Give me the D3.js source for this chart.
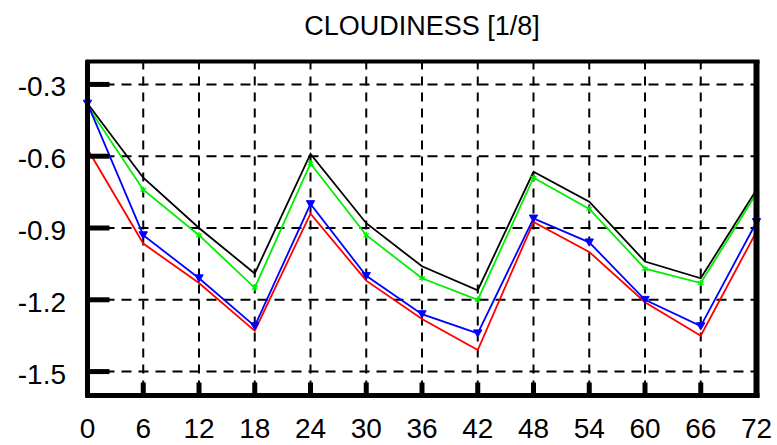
<!DOCTYPE html>
<html>
<head>
<meta charset="utf-8">
<script src="https://cdn.jsdelivr.net/npm/d3@7"></script>
<style>
  body { margin: 0; background: #fff; }
  text { font-family: "Liberation Sans", Arial, sans-serif; fill: #000; }
</style>
</head>
<body>
<div id="chart"></div>
<script>
// forecast hours (x) and the four curves
let hours = [0, 6, 12, 18, 24, 30, 36, 42, 48, 54, 60, 66, 72];
let blackVals = [-0.38, -0.69, -0.90, -1.09, -0.59, -0.88, -1.06, -1.16, -0.665, -0.79, -1.04, -1.11, -0.74];
let greenVals = [-0.39, -0.74, -0.93, -1.15, -0.63, -0.93, -1.11, -1.20, -0.69, -0.82, -1.07, -1.13, -0.755];
let blueVals  = [-0.38, -0.93, -1.11, -1.31, -0.80, -1.10, -1.26, -1.34, -0.86, -0.96, -1.20, -1.31, -0.875];
let redVals   = [-0.57, -0.965, -1.13, -1.33, -0.84, -1.12, -1.28, -1.41, -0.875, -1.00, -1.21, -1.35, -0.915];
let yTicks = [-0.3, -0.6, -0.9, -1.2, -1.5];
let title = 'CLOUDINESS [1/8]';

let width = 777, height = 445;
let margin = {top: 60, right: 20, bottom: 50, left: 87.5};

let svg = d3.select('#chart').append('svg')
  .attr('width', width)
  .attr('height', height);

let xScale = d3.scaleLinear().domain([0, 72]).range([margin.left, 756.5]);
let yScale = d3.scaleLinear().domain([-0.2, -1.6]).range([60.5, 395.5]);

let x0 = xScale(0), x1 = xScale(72), y0 = yScale(-0.2), y1 = yScale(-1.6);

// dashed grid
svg.append('g').selectAll('line').data(hours.slice(1, -1)).enter().append('line')
  .attr('x1', d => xScale(d)).attr('x2', d => xScale(d))
  .attr('y1', y0).attr('y2', y1)
  .attr('stroke', '#000').attr('stroke-width', 2).attr('stroke-dasharray', '9,7');
svg.append('g').selectAll('line').data(yTicks).enter().append('line')
  .attr('x1', x0).attr('x2', x1)
  .attr('y1', d => yScale(d)).attr('y2', d => yScale(d))
  .attr('stroke', '#000').attr('stroke-width', 2).attr('stroke-dasharray', '10,7');

// curves
let series = [
  {vals: blackVals, color: '#000000'},
  {vals: greenVals, color: '#00ee00'},
  {vals: redVals,   color: '#ff0000'},
  {vals: blueVals,  color: '#0000ff'}
];
let line = d3.line()
  .x((d, i) => xScale(hours[i]))
  .y(d => yScale(d));
series.forEach(s => {
  svg.append('path').datum(s.vals)
    .attr('d', line)
    .attr('fill', 'none')
    .attr('stroke', s.color)
    .attr('stroke-width', 1.8);
});

// markers: green asterisks, blue downward triangles
svg.append('g').selectAll('path').data(greenVals.slice(1)).enter().append('path')
  .attr('d', d3.symbol().type(d3.symbolAsterisk).size(30))
  .attr('transform', (d, i) => `translate(${xScale(hours[i + 1])},${yScale(d)})`)
  .attr('fill', 'none').attr('stroke', '#00ee00').attr('stroke-width', 1.3);
svg.append('g').selectAll('path').data(blueVals).enter().append('path')
  .attr('d', d3.symbol().type(d3.symbolTriangle).size(30))
  .attr('transform', (d, i) => `translate(${xScale(hours[i])},${yScale(d) - 1}) rotate(180)`)
  .attr('fill', '#0000ff').attr('stroke', '#0000ff').attr('stroke-width', 1);

// frame
svg.append('line').attr('x1', x0 - 2).attr('x2', x1 + 3).attr('y1', y0 + 1).attr('y2', y0 + 1)
  .attr('stroke', '#000').attr('stroke-width', 4);
svg.append('line').attr('x1', x0).attr('x2', x0).attr('y1', y0).attr('y2', y1 + 2)
  .attr('stroke', '#000').attr('stroke-width', 5);
svg.append('line').attr('x1', x1).attr('x2', x1).attr('y1', y0).attr('y2', y1 + 2)
  .attr('stroke', '#000').attr('stroke-width', 6);
svg.append('line').attr('x1', x0 - 2).attr('x2', x1 + 3).attr('y1', y1).attr('y2', y1)
  .attr('stroke', '#000').attr('stroke-width', 5);

// ticks
svg.append('g').selectAll('line').data(yTicks).enter().append('line')
  .attr('x1', x0).attr('x2', x0 + 22)
  .attr('y1', d => yScale(d)).attr('y2', d => yScale(d))
  .attr('stroke', '#000').attr('stroke-width', 5);
svg.append('g').selectAll('line').data(hours.slice(1, -1)).enter().append('line')
  .attr('x1', d => xScale(d)).attr('x2', d => xScale(d))
  .attr('y1', y1).attr('y2', y1 - 13)
  .attr('stroke', '#000').attr('stroke-width', 5);

// tick labels
svg.append('g').selectAll('text').data(yTicks).enter().append('text')
  .attr('x', 66)
  .attr('y', d => yScale(d) + 12)
  .attr('text-anchor', 'end')
  .style('font-size', '28px')
  .text(d => d.toFixed(1));
svg.append('g').selectAll('text').data(hours).enter().append('text')
  .attr('x', d => xScale(d))
  .attr('y', 438)
  .attr('text-anchor', 'middle')
  .style('font-size', '28px')
  .text(d => d);

// title
svg.append('text')
  .attr('x', (x0 + x1) / 2)
  .attr('y', 35)
  .attr('text-anchor', 'middle')
  .style('font-size', '27px')
  .text(title);
</script>
</body>
</html>
